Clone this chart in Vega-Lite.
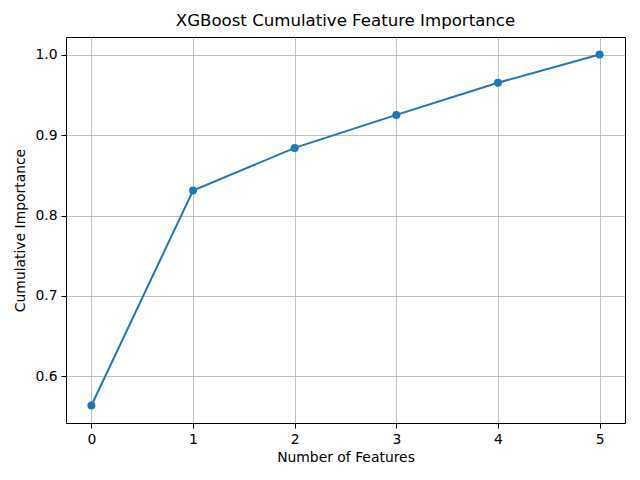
{
  "$schema": "https://vega.github.io/schema/vega-lite/v6.json",
  "width": 559,
  "height": 386,
  "autosize": {"type": "none"},
  "padding": {"left": 66, "top": 37, "right": 15, "bottom": 57},
  "background": "white",
  "title": {
    "text": "XGBoost Cumulative Feature Importance",
    "font": "DejaVu Sans",
    "fontSize": 16.6,
    "fontWeight": "normal",
    "color": "black",
    "anchor": "middle",
    "offset": 7
  },
  "config": {
    "view": {"stroke": "black", "strokeWidth": 1},
    "axis": {
      "labelFont": "DejaVu Sans",
      "titleFont": "DejaVu Sans",
      "labelFontSize": 13.9,
      "titleFontSize": 13.9,
      "titleFontWeight": "normal",
      "labelColor": "black",
      "titleColor": "black",
      "tickColor": "black",
      "tickSize": 5,
      "domain": false,
      "grid": true,
      "gridColor": "#b0b0b0",
      "gridWidth": 0.8,
      "labelPadding": 4
    }
  },
  "data": {
    "values": [
      {"n": 0, "imp": 0.564},
      {"n": 1, "imp": 0.831},
      {"n": 2, "imp": 0.884},
      {"n": 3, "imp": 0.925},
      {"n": 4, "imp": 0.965},
      {"n": 5, "imp": 1.0}
    ]
  },
  "mark": {"type": "line", "color": "#1f77b4", "strokeWidth": 2, "point": {"filled": true, "size": 64, "color": "#1f77b4", "opacity": 1}},
  "encoding": {
    "x": {
      "field": "n",
      "type": "quantitative",
      "title": "Number of Features",
      "scale": {"domain": [-0.25, 5.25], "nice": false, "zero": false},
      "axis": {"values": [0, 1, 2, 3, 4, 5], "format": "d", "titlePadding": 5}
    },
    "y": {
      "field": "imp",
      "type": "quantitative",
      "title": "Cumulative Importance",
      "scale": {"domain": [0.5422, 1.0218], "nice": false, "zero": false},
      "axis": {"values": [0.6, 0.7, 0.8, 0.9, 1.0], "format": ".1f", "titlePadding": 7}
    }
  }
}
